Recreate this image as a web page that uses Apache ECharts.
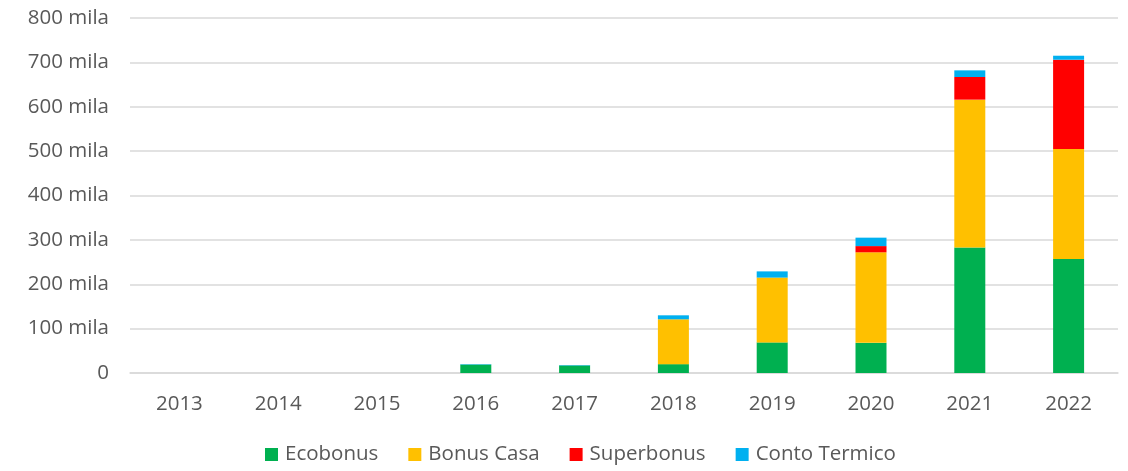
<!DOCTYPE html>
<html>
<head>
	<meta charset="utf-8">
	<title>Bonus edilizi</title>
	<script src="https://cdn.jsdelivr.net/npm/echarts@6/dist/echarts.min.js"></script>
	<style>
		* { margin: 0; padding: 0; }
		#main { width: 1128px; height: 471px; background: #fff; }
	</style>
</head>
<body>
	<div id="main"></div>
	<script>
		// valori in migliaia
		let years = ['2013', '2014', '2015', '2016', '2017', '2018', '2019', '2020', '2021', '2022'];
		let ecobonus = [0, 0, 0, 19, 17, 20, 69, 68, 283, 257];
		let bonusCasa = [0, 0, 0, 0, 0, 101, 146, 204, 333, 248];
		let superbonus = [0, 0, 0, 0, 0, 0, 0, 14, 51, 201];
		let contoTermico = [0, 0, 0, 1, 1, 9, 14, 19, 15, 9];
		let seriesNames = ['Ecobonus', 'Bonus Casa', 'Superbonus', 'Conto Termico'];
		let myColor = ['#00B050', '#FFC000', '#FF0000', '#00B0F0'];

		let myChart = echarts.init(document.getElementById('main'));
		let font = '"Open Sans", sans-serif';
		let fs = 20.5;

		function mkSeries(i, data) {
			return {
				name: seriesNames[i],
				type: 'bar',
				stack: 'tot',
				barWidth: 31,
				itemStyle: { color: myColor[i] },
				data: data
			};
		}

		let option = {
			backgroundColor: '#fff',
			animation: false,
			textStyle: { fontFamily: font },
			legend: {
				bottom: 1,
				left: 260,
				itemWidth: 13,
				itemHeight: 13,
				itemGap: 30,
				icon: 'rect',
				textStyle: { color: '#595959', fontSize: fs, fontFamily: font, padding: [0, 0, 0, 2] },
				data: seriesNames
			},
			grid: {
				left: 130,
				right: 10,
				top: 18,
				bottom: 98
			},
			xAxis: {
				type: 'category',
				data: years,
				axisLine: { show: true, lineStyle: { color: '#d9d9d9', width: 1.5 } },
				axisTick: { show: false },
				axisLabel: { color: '#595959', fontSize: fs, margin: 21, fontFamily: font }
			},
			yAxis: {
				type: 'value',
				min: 0,
				max: 800,
				interval: 100,
				axisLine: { show: false },
				axisTick: { show: false },
				splitLine: { lineStyle: { color: '#d9d9d9', width: 1.5 } },
				axisLabel: {
					color: '#595959',
					fontSize: fs,
					margin: 21,
					fontFamily: font,
					formatter: function (v) { return v === 0 ? '0' : v + ' mila'; }
				}
			},
			series: [
				mkSeries(0, ecobonus),
				mkSeries(1, bonusCasa),
				mkSeries(2, superbonus),
				mkSeries(3, contoTermico)
			]
		};
		myChart.setOption(option);
	</script>
</body>
</html>
